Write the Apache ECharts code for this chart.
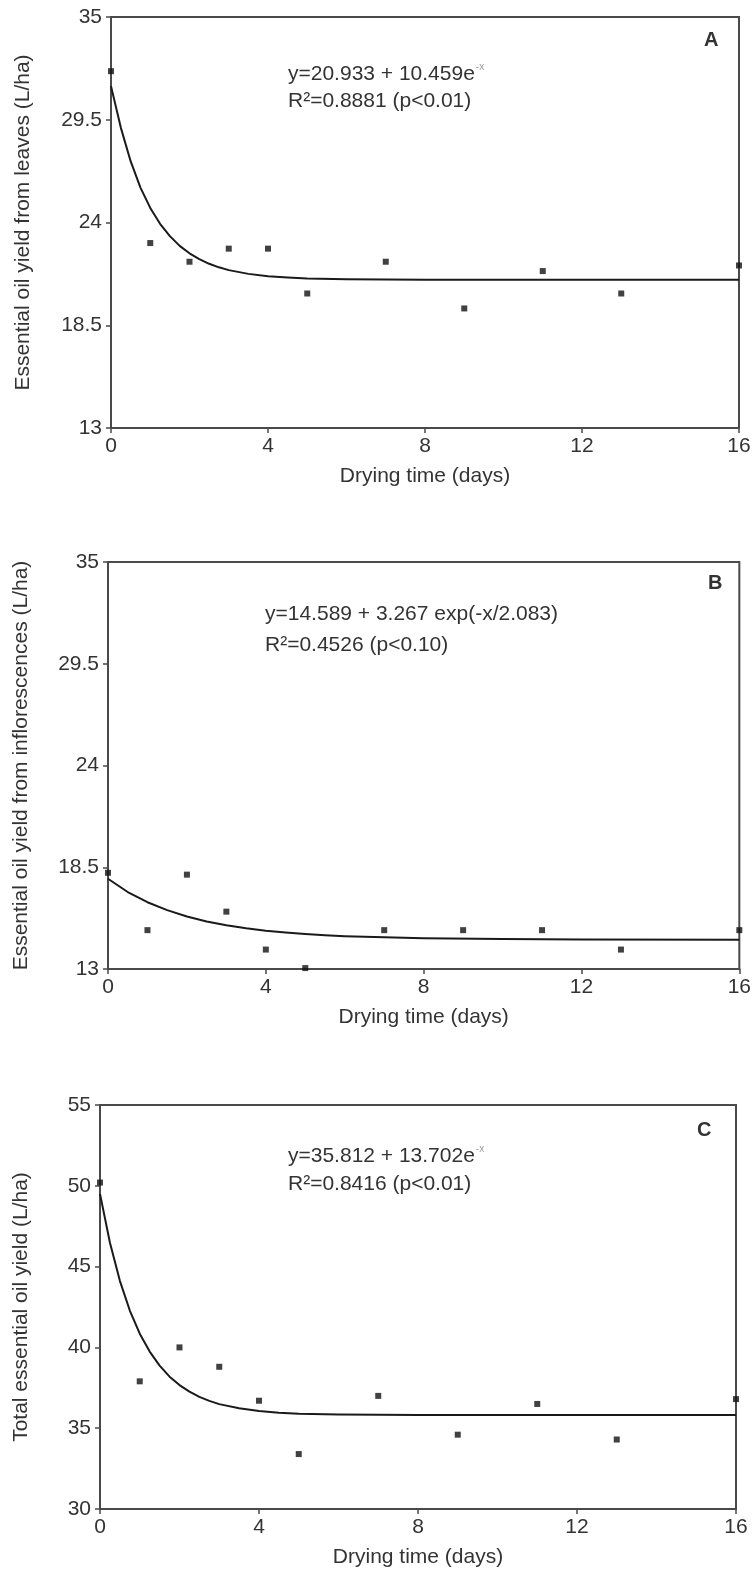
<!DOCTYPE html>
<html>
<head>
<meta charset="utf-8">
<script src="https://cdn.jsdelivr.net/npm/echarts@6/dist/echarts.min.js"></script>
<style>
  html, body { margin: 0; padding: 0; background: #fff; }
  #chart { width: 754px; height: 1573px; }
</style>
</head>
<body>
<div id="chart"></div>
<script>
// observed points (same days for all three panels)
var days = [0, 1, 2, 3, 4, 5, 7, 9, 11, 13, 16];
var leavesObs = [32.1, 22.9, 21.9, 22.6, 22.6, 20.2, 21.9, 19.4, 21.4, 20.2, 21.7];
var inflorObs = [18.2, 15.1, 18.1, 16.1, 14.05, 13.05, 15.1, 15.1, 15.1, 14.05, 15.1];
var totalObs = [50.2, 37.9, 40.0, 38.8, 36.7, 33.4, 37.0, 34.6, 36.5, 34.3, 36.8];

// fitted curves
var fitDaysA = [0, 0.25, 0.5, 0.75, 1, 1.25, 1.5, 1.75, 2, 2.25, 2.5, 2.75, 3, 3.5, 4, 4.5, 5, 6, 8, 12, 16];
var leavesFit = [31.3, 29.08, 27.28, 25.87, 24.78, 23.93, 23.27, 22.75, 22.35, 22.04, 21.79, 21.6, 21.45, 21.25, 21.12, 21.05, 21.0, 20.96, 20.94, 20.94, 20.94];
var fitDaysB = [0, 0.5, 1, 1.5, 2, 2.5, 3, 3.5, 4, 4.5, 5, 5.5, 6, 8, 10, 12, 16];
var inflorFit = [17.88, 17.16, 16.61, 16.18, 15.84, 15.57, 15.36, 15.2, 15.07, 14.97, 14.89, 14.82, 14.77, 14.66, 14.62, 14.6, 14.58];
var fitDaysC = [0, 0.25, 0.5, 0.75, 1, 1.25, 1.5, 1.75, 2, 2.25, 2.5, 2.75, 3, 3.5, 4, 4.5, 5, 6, 8, 12, 16];
var totalFit = [49.5, 46.48, 44.12, 42.28, 40.85, 39.74, 38.87, 38.19, 37.67, 37.26, 36.94, 36.69, 36.49, 36.23, 36.06, 35.96, 35.9, 35.85, 35.82, 35.81, 35.81];

var xName = 'Drying time (days)';
var yNames = ['Essential oil yield from leaves (L/ha)', 'Essential oil yield from inflorescences (L/ha)', 'Total essential oil yield (L/ha)'];
var panelLetters = ['A', 'B', 'C'];
var eqLines = [
  ['y=20.933 + 10.459e', '-x', 'R\u00b2=0.8881 (p<0.01)'],
  ['y=14.589 + 3.267 exp(-x/2.083)', '', 'R\u00b2=0.4526 (p<0.10)'],
  ['y=35.812 + 13.702e', '-x', 'R\u00b2=0.8416 (p<0.01)']
];

var FONT = '"Liberation Sans", Arial, sans-serif';
var ink = '#333';
var frame = '#4a4a4a';

function pairs(xs, ys) {
  var out = [];
  for (var i = 0; i < xs.length; i++) out.push([xs[i], ys[i]]);
  return out;
}

var grids = [
  { left: 111, right: 15, top: 17, height: 411 },
  { left: 108, right: 14, top: 562, height: 407 },
  { left: 100, right: 18, top: 1105, height: 404 }
];
var yRanges = [[13, 35, 5.5], [13, 35, 5.5], [30, 55, 5]];
var yNameGap = [77, 76, 68];

var option = {
  backgroundColor: '#fff',
  animation: false,
  grid: grids.map(function (g) {
    return Object.assign({ show: true, borderColor: frame, borderWidth: 2, backgroundColor: 'transparent' }, g);
  }),
  xAxis: [0, 1, 2].map(function (i) {
    return {
      type: 'value', gridIndex: i, min: 0, max: 16, interval: 4,
      name: xName, nameLocation: 'middle', nameGap: 38,
      nameTextStyle: { fontFamily: FONT, fontSize: 21, color: ink },
      axisLine: { show: true, lineStyle: { color: frame, width: 2 } },
      axisTick: { show: true, inside: false, length: 5, lineStyle: { color: frame, width: 1.5 } },
      axisLabel: { fontFamily: FONT, fontSize: 21, color: ink, margin: 8 },
      splitLine: { show: false }
    };
  }),
  yAxis: [0, 1, 2].map(function (i) {
    return {
      type: 'value', gridIndex: i, min: yRanges[i][0], max: yRanges[i][1], interval: yRanges[i][2],
      name: yNames[i], nameLocation: 'middle', nameGap: yNameGap[i], nameRotate: 90,
      nameTextStyle: { fontFamily: FONT, fontSize: 21, color: ink },
      axisLine: { show: true, lineStyle: { color: frame, width: 2 } },
      axisTick: { show: true, inside: false, length: 5, lineStyle: { color: frame, width: 1.5 } },
      axisLabel: { fontFamily: FONT, fontSize: 21, color: ink, margin: 9 },
      splitLine: { show: false }
    };
  }),
  series: [
    { type: 'line', xAxisIndex: 0, yAxisIndex: 0, data: pairs(fitDaysA, leavesFit), smooth: false, showSymbol: false, lineStyle: { color: '#1a1a1a', width: 2, join: 'round' } },
    { type: 'scatter', xAxisIndex: 0, yAxisIndex: 0, data: pairs(days, leavesObs), symbol: 'rect', symbolSize: 6, clip: false, itemStyle: { color: '#111' } },
    { type: 'line', xAxisIndex: 1, yAxisIndex: 1, data: pairs(fitDaysB, inflorFit), smooth: false, showSymbol: false, lineStyle: { color: '#1a1a1a', width: 2, join: 'round' } },
    { type: 'scatter', xAxisIndex: 1, yAxisIndex: 1, data: pairs(days, inflorObs), symbol: 'rect', symbolSize: 6, clip: false, itemStyle: { color: '#111' } },
    { type: 'line', xAxisIndex: 2, yAxisIndex: 2, data: pairs(fitDaysC, totalFit), smooth: false, showSymbol: false, lineStyle: { color: '#1a1a1a', width: 2, join: 'round' } },
    { type: 'scatter', xAxisIndex: 2, yAxisIndex: 2, data: pairs(days, totalObs), symbol: 'rect', symbolSize: 6, clip: false, itemStyle: { color: '#111' } }
  ],
  graphic: []
};

// equations and panel letters
var eqPos = [[288, 74, 103], [265, 616, 647], [288, 1156, 1186]];
var letterPos = [[711, 41], [715, 584], [704, 1131]];
for (var i = 0; i < 3; i++) {
  option.graphic.push({
    type: 'text', left: eqPos[i][0], top: eqPos[i][1] - 12,
    style: {
      text: '{a|' + eqLines[i][0] + '}' + (eqLines[i][1] ? '{s|' + eqLines[i][1] + '}' : ''),
      rich: {
        a: { fontFamily: FONT, fontSize: 21, fill: ink, lineHeight: 24 },
        s: { fontFamily: FONT, fontSize: 10, fill: '#999', lineHeight: 24, verticalAlign: 'top', padding: [0, 0, 12, 1] }
      }
    }
  });
  option.graphic.push({
    type: 'text', left: eqPos[i][0], top: eqPos[i][2] - 12,
    style: { text: eqLines[i][2], fontFamily: FONT, fontSize: 21, fill: ink }
  });
  option.graphic.push({
    type: 'text', left: letterPos[i][0] - 7, top: letterPos[i][1] - 11,
    style: { text: panelLetters[i], fontFamily: FONT, fontSize: 20, fontWeight: 'bold', fill: '#333' }
  });
}

var myChart = echarts.init(document.getElementById('chart'), null, { renderer: 'canvas' });
myChart.setOption(option);
</script>
</body>
</html>
